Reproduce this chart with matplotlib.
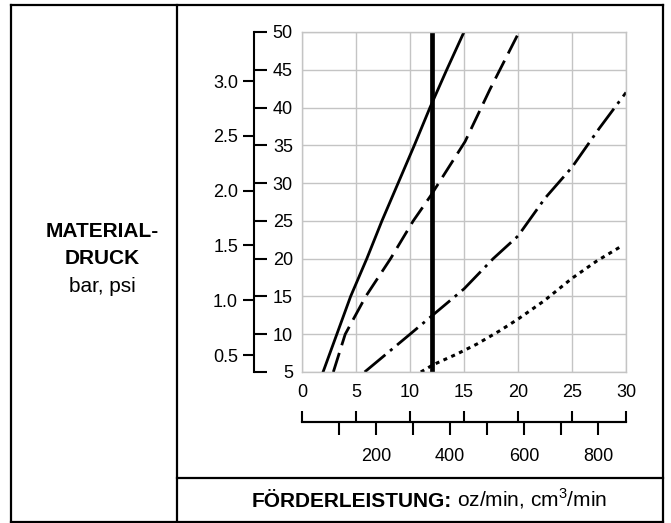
import matplotlib

matplotlib.use("Agg")
import matplotlib.pyplot as plt
from matplotlib.lines import Line2D

# Förderleistung (oz/min) gegen Materialdruck (psi)
solid_x = [1.95, 4.5, 6.0, 7.4, 8.9, 10.4, 11.85, 13.4, 15.0]
solid_y = [5, 15, 20, 25, 30, 35, 40, 45, 50]
dashed_x = [2.9, 4.0, 5.9, 8.2, 10.3, 11.9, 15.1, 17.4, 20.1]
dashed_y = [5, 10, 15, 20, 25, 28.3, 35.5, 42.4, 50]
dashdot_x = [5.8, 10.0, 12.0, 15.0, 17.7, 20.0, 22.5, 25.0, 27.5, 30.0]
dashdot_y = [5, 10, 12.4, 16.0, 20.0, 23.0, 28.0, 32.1, 37.2, 42.0]
dotted_x = [11.0, 12.2, 14.3, 16.2, 18.3, 20.0, 22.4, 25.0, 27.3, 29.4]
dotted_y = [5.0, 6.0, 7.35, 8.7, 10.45, 12.0, 14.4, 17.4, 19.7, 21.5]
vline_x = 12.0

oz_ticks = [0, 5, 10, 15, 20, 25, 30]
psi_ticks = [5, 10, 15, 20, 25, 30, 35, 40, 45, 50]
bar_ticks = [0.5, 1.0, 1.5, 2.0, 2.5, 3.0]
cc_major = [200, 400, 600, 800]
cc_minor = [100, 300, 500, 700]
PSI_PER_BAR = 14.5
CC_PER_OZ = 29.2

W, H = 671, 523
TICK_FS = 13
LABEL_FS = 15


def fx(px):
    return px / W


def fy(py):
    return 1 - py / H


plt.rcParams["font.family"] = ["Liberation Sans", "DejaVu Sans"]
plt.rcParams["mathtext.fontset"] = "custom"
plt.rcParams["mathtext.rm"] = "Liberation Sans"
fig = plt.figure(figsize=(W / 100, H / 100), dpi=100)

# table frame
frame = dict(color="black", lw=1.6, solid_capstyle="projecting")
for x0, y0, x1, y1 in [(11, 5, 662.5, 5), (11, 521.5, 662.5, 521.5),
                       (11, 5, 11, 521.5), (662.5, 5, 662.5, 521.5),
                       (176.7, 5, 176.7, 521.5), (176.7, 478.3, 662.5, 478.3)]:
    fig.add_artist(Line2D([fx(x0), fx(x1)], [fy(y0), fy(y1)],
                          transform=fig.transFigure, **frame))

left, right, top, bottom = 302, 626, 32, 372
rect_y = fy(bottom)
rect_h = fy(top) - fy(bottom)

# main plot
ax = fig.add_axes([fx(left), rect_y, fx(right) - fx(left), rect_h])
ax.set_xlim(0, 30)
ax.set_ylim(5, 50)
ax.set_xticks(oz_ticks)
ax.set_yticks(psi_ticks)
ax.grid(color="#c4c4c4", lw=1.0)
ax.set_axisbelow(True)
for s in ax.spines.values():
    s.set_color("#c4c4c4")
    s.set_linewidth(1.0)
ax.tick_params(axis="x", length=0, pad=8.5, labelsize=TICK_FS)
ax.tick_params(axis="y", left=False, labelleft=False)

ax.plot(solid_x, solid_y, color="black", lw=2.0)
ax.plot(dashed_x, dashed_y, color="black", lw=2.0, dashes=(7.2, 2.9))
ax.plot(dashdot_x, dashdot_y, color="black", lw=2.0, dashes=(9.7, 2.2, 1.1, 2.2))
ax.plot(dotted_x, dotted_y, color="black", lw=2.2, dashes=(1.3, 1.5))
ax.axvline(vline_x, color="black", lw=3.4)

# psi scale (ticks to the right)
ax_psi = fig.add_axes([fx(200), rect_y, fx(254) - fx(200), rect_h])
ax_psi.patch.set_visible(False)
ax_psi.set_ylim(5, 50)
for k in ["top", "bottom", "left"]:
    ax_psi.spines[k].set_visible(False)
ax_psi.spines["right"].set_linewidth(1.5)
ax_psi.set_xticks([])
ax_psi.yaxis.tick_right()
ax_psi.set_yticks(psi_ticks)
ax_psi.tick_params(axis="y", direction="out", length=9, width=1.5, pad=19,
                   labelsize=TICK_FS)
for t in ax_psi.get_yticklabels():
    t.set_ha("right")

# bar scale (ticks to the left)
ax_bar = fig.add_axes([fx(254), rect_y, 0.04, rect_h])
ax_bar.patch.set_visible(False)
ax_bar.set_ylim(5 / PSI_PER_BAR, 50 / PSI_PER_BAR)
for s in ax_bar.spines.values():
    s.set_visible(False)
ax_bar.set_xticks([])
ax_bar.set_yticks(bar_ticks)
ax_bar.set_yticklabels([f"{b:.1f}" for b in bar_ticks])
ax_bar.tick_params(axis="y", direction="out", length=8, width=1.5, pad=3.5,
                   labelsize=TICK_FS)

# oz / cm3 scale below
ax_sc = fig.add_axes([fx(left), fy(422), fx(right) - fx(left), 0.0005])
ax_sc.patch.set_visible(False)
ax_sc.set_xlim(0, 30)
for k in ["top", "left", "right"]:
    ax_sc.spines[k].set_visible(False)
ax_sc.spines["bottom"].set_linewidth(1.5)
ax_sc.set_yticks([])
ax_sc.set_xticks(oz_ticks)
ax_sc.tick_params(axis="x", direction="in", length=8, width=1.5,
                  labelbottom=False)

sec = ax_sc.secondary_xaxis("bottom", functions=(lambda x: x * CC_PER_OZ,
                                                 lambda c: c / CC_PER_OZ))
sec.spines["bottom"].set_linewidth(1.5)
sec.set_xticks(cc_major)
sec.set_xticks(cc_minor, minor=True)
sec.tick_params(which="both", direction="out", length=9.5, width=1.5)
sec.tick_params(which="major", pad=9.5, labelsize=TICK_FS)

# labels
fig.text(fx(102.5), fy(237), "MATERIAL-", ha="center", va="baseline",
         weight="bold", size=LABEL_FS)
fig.text(fx(102.5), fy(264.5), "DRUCK", ha="center", va="baseline",
         weight="bold", size=LABEL_FS)
fig.text(fx(102.5), fy(291.5), "bar, psi", ha="center", va="baseline",
         size=LABEL_FS)

fig.text(fx(452), fy(506.7), "FÖRDERLEISTUNG:", ha="right", va="baseline",
         weight="bold", size=LABEL_FS)
fig.text(fx(457), fy(506.7), r"oz/min, cm$^{3}$/min", ha="left",
         va="baseline", size=LABEL_FS)

fig.savefig("out.png", dpi=100)
